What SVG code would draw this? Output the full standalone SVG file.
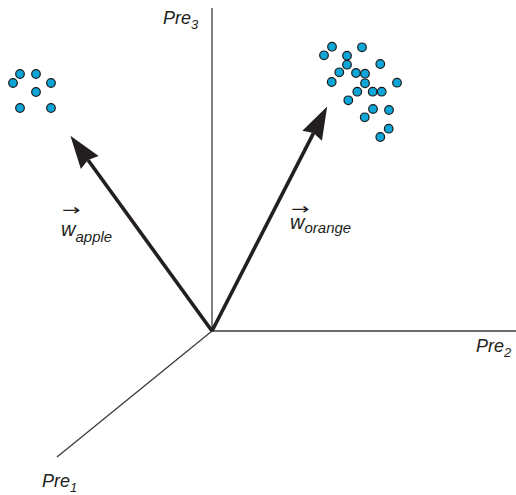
<svg xmlns="http://www.w3.org/2000/svg" width="516" height="495" viewBox="0 0 516 495">
<style>
.axis{stroke:#3a3a3a;stroke-width:1.3;fill:none}
.vec{stroke:#231f20;stroke-width:3.6;fill:none}
.dot{fill:#0ea6d8;stroke:#1a1a1a;stroke-width:1.2}
.lbl{font-family:"Liberation Sans",Arial,sans-serif;font-style:italic;fill:#231f20}
.big{font-size:18px}
.wv{font-size:20px}
.sub{font-size:13px}
.wsub{font-size:15px}
.arr{font-family:"DejaVu Sans","Liberation Sans",sans-serif;font-size:22px;fill:#231f20}
</style>
<defs>
<marker id="head" markerUnits="userSpaceOnUse" orient="auto" refX="0" refY="0" markerWidth="40" markerHeight="30" viewBox="-5 -15 40 30" overflow="visible">
<path d="M30,0 L-3,-11 L0,0 L-3,11 Z" fill="#231f20"/>
</marker>
</defs>
<g id="axes">
<line class="axis" x1="212" y1="8" x2="212" y2="331"/>
<line class="axis" x1="212" y1="331" x2="516" y2="331"/>
<line class="axis" x1="212" y1="331" x2="57" y2="457"/>
</g>
<g id="connectors">
<line class="vec" x1="212" y1="331" x2="88" y2="160" marker-end="url(#head)"/>
<line class="vec" x1="212" y1="331" x2="313.5" y2="133.1" marker-end="url(#head)"/>
</g>
<g id="apple-cluster">
<circle class="dot" cx="20" cy="74" r="4.3"/>
<circle class="dot" cx="36" cy="74" r="4.3"/>
<circle class="dot" cx="13" cy="83" r="4.3"/>
<circle class="dot" cx="51" cy="83" r="4.3"/>
<circle class="dot" cx="36" cy="92" r="4.3"/>
<circle class="dot" cx="20" cy="108" r="4.3"/>
<circle class="dot" cx="51" cy="108" r="4.3"/>
</g>
<g id="orange-cluster">
<circle class="dot" cx="332" cy="46.7" r="4.3"/>
<circle class="dot" cx="362" cy="47.3" r="4.3"/>
<circle class="dot" cx="324" cy="55.3" r="4.3"/>
<circle class="dot" cx="347" cy="55.7" r="4.3"/>
<circle class="dot" cx="347" cy="64.7" r="4.3"/>
<circle class="dot" cx="380.3" cy="64" r="4.3"/>
<circle class="dot" cx="339.3" cy="72.3" r="4.3"/>
<circle class="dot" cx="356" cy="73" r="4.3"/>
<circle class="dot" cx="365" cy="73.7" r="4.3"/>
<circle class="dot" cx="331.7" cy="82" r="4.3"/>
<circle class="dot" cx="365" cy="83.3" r="4.3"/>
<circle class="dot" cx="397" cy="82.7" r="4.3"/>
<circle class="dot" cx="357.3" cy="91.7" r="4.3"/>
<circle class="dot" cx="372.7" cy="91.7" r="4.3"/>
<circle class="dot" cx="381.7" cy="91.7" r="4.3"/>
<circle class="dot" cx="348.3" cy="100.3" r="4.3"/>
<circle class="dot" cx="373" cy="109" r="4.3"/>
<circle class="dot" cx="389" cy="110" r="4.3"/>
<circle class="dot" cx="364.7" cy="117.3" r="4.3"/>
<circle class="dot" cx="388.7" cy="128.7" r="4.3"/>
<circle class="dot" cx="380.3" cy="137" r="4.3"/>
</g>
<g id="label-pre3">
<text class="lbl big" x="163" y="24">Pre<tspan class="sub" dy="5">3</tspan></text>
</g>
<g id="label-pre2">
<text class="lbl big" x="476" y="352">Pre<tspan class="sub" dy="5">2</tspan></text>
</g>
<g id="label-pre1">
<text class="lbl big" x="42" y="487">Pre<tspan class="sub" dy="5">1</tspan></text>
</g>
<g id="label-w-apple">
<text class="arr" transform="translate(62,209) scale(1,0.7)" x="0" y="8">→</text>
<text class="lbl wv" x="61" y="236">w<tspan class="wsub" dy="6">apple</tspan></text>
</g>
<g id="label-w-orange">
<text class="arr" transform="translate(291,208) scale(1,0.7)" x="0" y="8">→</text>
<text class="lbl wv" x="290" y="229">w<tspan class="wsub" dy="4">orange</tspan></text>
</g>
</svg>
